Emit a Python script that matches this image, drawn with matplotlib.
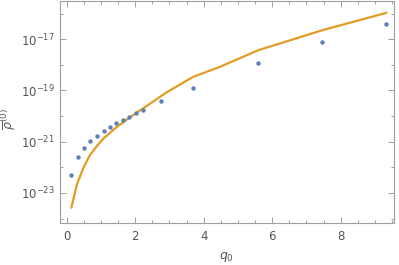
import numpy as np
import matplotlib
matplotlib.use("Agg")
import matplotlib.pyplot as plt
from matplotlib.ticker import FixedLocator, MultipleLocator, NullFormatter

# data (log10 values)
q0_points = [0.137, 0.34, 0.50, 0.69, 0.885, 1.08, 1.275, 1.44, 1.635, 1.83, 2.02, 2.22, 2.76, 3.70, 5.59, 7.46, 9.33]
log_points = [-22.30, -21.61, -21.23, -20.96, -20.76, -20.58, -20.41, -20.28, -20.15, -20.02, -19.89, -19.76,
              -19.41, -18.91, -17.91, -17.10, -16.41]
q0_line = [0.137, 0.30, 0.48, 0.67, 0.87, 1.06, 1.45, 1.84, 2.42, 2.91, 3.69, 4.47, 5.59, 7.46, 9.33]
log_line = [-23.57, -22.66, -22.05, -21.54, -21.19, -20.89, -20.44, -20.05, -19.53, -19.08, -18.47, -18.08,
            -17.43, -16.65, -15.97]

fig = plt.figure(figsize=(3.99, 2.65), dpi=100)
ax = fig.add_axes([0.150, 0.158, 0.837, 0.838])

ax.plot(q0_line, 10.0 ** np.array(log_line), color="#E19C24", lw=1.6, zorder=2)
ax.plot(q0_points, 10.0 ** np.array(log_points), "o", color="#5E81B5", ms=3.2, mec="none", zorder=3)

ax.set_yscale("log")
ax.set_xlim(-0.2, 9.55)
ax.set_ylim(10 ** -24.18, 10 ** -15.51)

ax.xaxis.set_major_locator(FixedLocator([0, 2, 4, 6, 8]))
ax.xaxis.set_minor_locator(MultipleLocator(0.5))
ax.yaxis.set_major_locator(FixedLocator([1e-23, 1e-21, 1e-19, 1e-17]))
ax.yaxis.set_minor_locator(FixedLocator([10.0 ** k for k in range(-24, -15)]))
ax.yaxis.set_minor_formatter(NullFormatter())
ax.set_yticklabels([r"$10^{-23}$", r"$10^{-21}$", r"$10^{-19}$", r"$10^{-17}$"])

for s in ax.spines.values():
    s.set_color("#a0a0a0")
    s.set_linewidth(0.8)
ax.tick_params(which="both", direction="in", top=True, right=True, colors="#a0a0a0",
               labelcolor="#555555", labelsize=8.5, width=0.7)
ax.tick_params(which="major", length=4)
ax.tick_params(which="minor", length=2.3)
ax.tick_params(axis="x", which="major", pad=5)

ax.set_xlabel(r"$q_0$", fontsize=9, color="#555555", labelpad=5)
ax.set_ylabel(r"$\overline{\rho}^{(0)}$", fontsize=9, color="#555555")
ax.yaxis.set_label_coords(-0.125, 0.47)

fig.savefig("out.png", dpi=100)
